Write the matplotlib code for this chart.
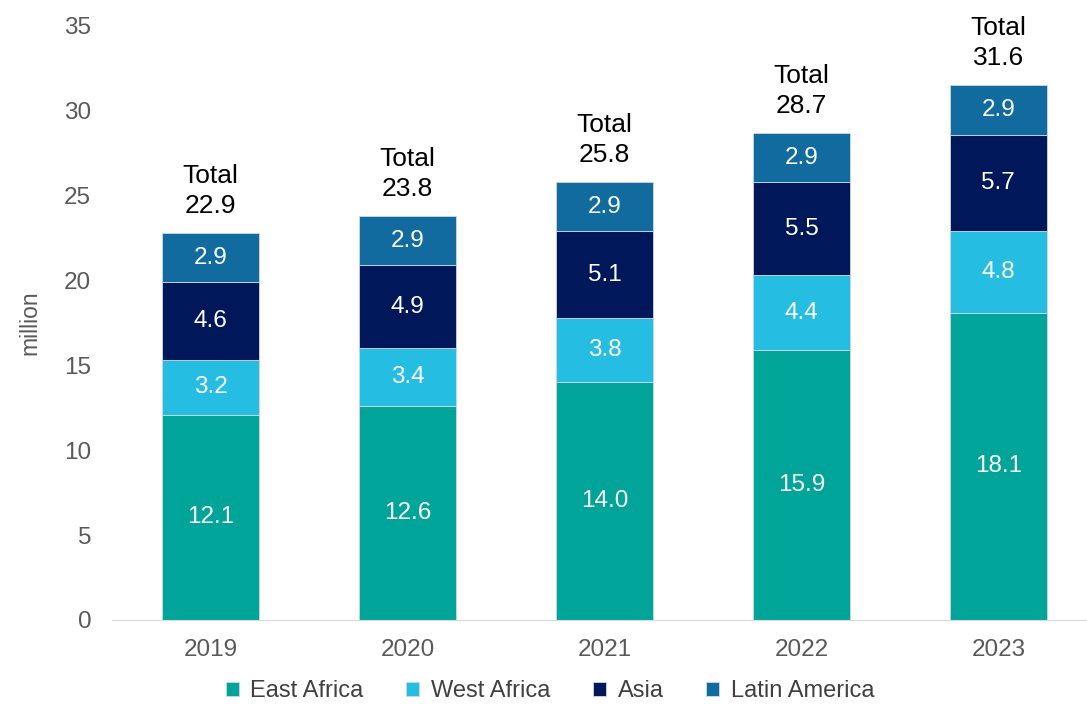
import matplotlib.pyplot as plt
import numpy as np

years = ['2019', '2020', '2021', '2022', '2023']
east_africa = [12.1, 12.6, 14.0, 15.9, 18.1]
west_africa = [3.2, 3.4, 3.8, 4.4, 4.8]
asia = [4.6, 4.9, 5.1, 5.5, 5.7]
latin_america = [2.9, 2.9, 2.9, 2.9, 2.9]
totals = [22.9, 23.8, 25.8, 28.7, 31.6]

series = [('East Africa', east_africa, '#00A499'),
          ('West Africa', west_africa, '#26BDE2'),
          ('Asia', asia, '#00175A'),
          ('Latin America', latin_america, '#126B9E')]

plt.rcParams['font.family'] = ['Liberation Sans', 'DejaVu Sans']

fig = plt.figure(figsize=(10.87, 7.04), dpi=100)
ax = fig.add_axes([112 / 1087, 84 / 704, 975 / 1087, 594 / 704])

x = np.arange(len(years))
bottom = np.zeros(len(years))
for name, vals, col in series:
    bars = ax.bar(x, vals, width=0.49, bottom=bottom, color=col, label=name,
                  edgecolor='#cfd8e0', linewidth=0.6)
    for xi, b, v in zip(x, bottom, vals):
        ax.text(xi, b + v / 2, f'{v:.1f}', ha='center', va='center',
                color='white', fontsize=17.5)
    bottom += np.array(vals)

for xi, top, t in zip(x, bottom, totals):
    ax.annotate(f'Total\n{t:.1f}', (xi, top), xytext=(0, 11), textcoords='offset points',
                ha='center', va='bottom', fontsize=19, color='black', linespacing=1.3)

ax.set_ylim(0, 35)
ax.set_xlim(-0.5, 4.45)
ax.set_yticks(range(0, 36, 5))
ax.set_xticks(x)
ax.set_xticklabels(years)
ax.tick_params(axis='both', length=0, labelsize=17.5, labelcolor='#595959')
ax.tick_params(axis='y', pad=15)
ax.tick_params(axis='x', pad=14)
for s in ['top', 'right', 'left']:
    ax.spines[s].set_visible(False)
ax.spines['bottom'].set_color('#d9d9d9')
ax.set_ylabel('million', fontsize=16.5, color='#595959', labelpad=16)

fig.legend(loc='lower center', bbox_to_anchor=(0.506, -0.028), ncol=4, frameon=False,
           fontsize=17, handlelength=0.55, handleheight=0.55, handletextpad=0.5,
           columnspacing=1.8, labelcolor='#404040')

fig.savefig('out.png', dpi=100)
